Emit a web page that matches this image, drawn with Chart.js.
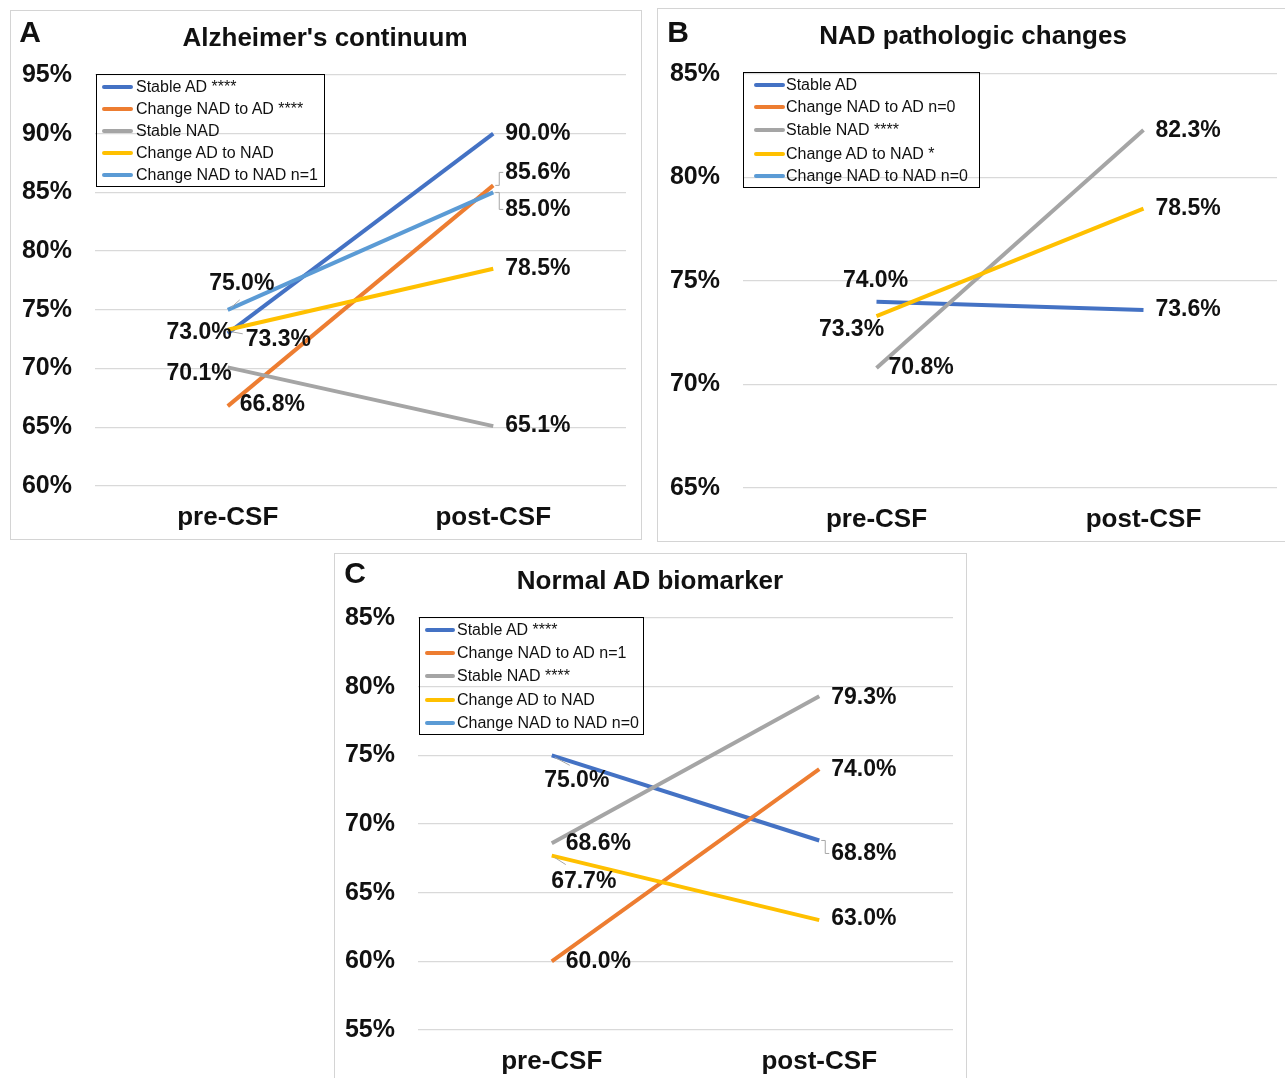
<!DOCTYPE html>
<html>
<head>
<meta charset="utf-8">
<script src="https://cdn.jsdelivr.net/npm/chart.js@4.4.1/dist/chart.umd.min.js"></script>
<style>
  html, body { margin: 0; padding: 0; background: #fff; }
  body { width: 1285px; height: 1078px; position: relative; overflow: hidden; font-family: "Liberation Sans", Arial, sans-serif; }
  .panel { position: absolute; border: 1px solid #d4d4d4; box-sizing: border-box; }
  .panel canvas { position: absolute; left: 0; top: 0; }
  .letter, .title { position: absolute; transform: translate(-50%, -50%); font-weight: bold; color: #111; white-space: nowrap; }
  .letter { font-size: 30px; }
  .title { font-size: 26px; }
  .legend { position: absolute; border: 1.6px solid #000; box-sizing: border-box; }
  .legend .row { position: absolute; left: 0; height: 20px; line-height: 20px; font-size: 16px; color: #111; white-space: nowrap; }
  .legend .sw { position: absolute; top: 8px; height: 4px; border-radius: 2px; }
  .legend .tx { position: absolute; top: 0; }
</style>
</head>
<body>
<script>
// data
const categories = ['pre-CSF', 'post-CSF'];
const colors = ['#4472C4', '#ED7D31', '#A5A5A5', '#FFC000', '#5B9BD5'];

const legendA = ['Stable AD ****', 'Change NAD to AD ****', 'Stable NAD', 'Change AD to NAD', 'Change NAD to NAD n=1'];
const legendB = ['Stable AD', 'Change NAD to AD n=0', 'Stable NAD ****', 'Change AD to NAD *', 'Change NAD to NAD n=0'];
const legendC = ['Stable AD ****', 'Change NAD to AD n=1', 'Stable NAD ****', 'Change AD to NAD', 'Change NAD to NAD n=0'];

const stableAD_A = [73.0, 90.0];
const nadToAD_A = [66.8, 85.6];
const stableNAD_A = [70.1, 65.1];
const adToNAD_A = [73.3, 78.5];
const nadToNAD_A = [75.0, 85.0];

const stableAD_B = [74.0, 73.6];
const nadToAD_B = [null, null];
const stableNAD_B = [70.8, 82.3];
const adToNAD_B = [73.3, 78.5];
const nadToNAD_B = [null, null];

const stableAD_C = [75.0, 68.8];
const nadToAD_C = [60.0, 74.0];
const stableNAD_C = [68.6, 79.3];
const adToNAD_C = [67.7, 63.0];
const nadToNAD_C = [null, null];

const yRangeA = [60, 95];
const yRangeB = [65, 85];
const yRangeC = [55, 85];

// layout of each panel (page pixels); labels: [dx, dy, align, leader polyline relative to point]
const panels = [
  {
    letter: 'A', title: "Alzheimer's continuum",
    series: [stableAD_A, nadToAD_A, stableNAD_A, adToNAD_A, nadToNAD_A], legend: legendA, yRange: yRangeA,
    box: { x: 10, y: 10, w: 632, h: 530 }, area: { l: 95, t: 75, r: 626, b: 486 },
    letterPos: [30, 32], titlePos: [325, 37],
    legendBox: { x: 96, y: 74, w: 229, h: 113, rows: [12, 34, 56, 78, 100], sw: [5, 31], tx: 39 },
    labels: [
      [[4, -1, 'right'], [12, 0, 'left']],
      [[12, -1, 'left'], [12, -13, 'left', [[2, 0], [6, 0], [6, -13], [10, -13]]]],
      [[4, 6, 'right'], [12, 0, 'left']],
      [[18, 10, 'left', [[4, 2], [15, 4]]], [12, 0, 'left']],
      [[14, -26, 'center', [[3, -2], [12, -10]]], [12, 17, 'left', [[2, 0], [6, 0], [6, 17], [10, 17]]]]
    ]
  },
  {
    letter: 'B', title: 'NAD pathologic changes',
    series: [stableAD_B, nadToAD_B, stableNAD_B, adToNAD_B, nadToNAD_B], legend: legendB, yRange: yRangeB,
    box: { x: 657, y: 8, w: 632, h: 534 }, area: { l: 743, t: 74, r: 1277, b: 488 },
    letterPos: [678, 32], titlePos: [973, 35],
    legendBox: { x: 743, y: 72, w: 237, h: 116, rows: [12, 34, 57, 81, 103], sw: [10, 31], tx: 42 },
    labels: [
      [[-1, -21, 'center'], [12, 0, 'left']],
      [[0, 0, 'left'], [0, 0, 'left']],
      [[12, 0, 'left'], [12, 1, 'left']],
      [[-25, 13, 'center'], [12, 0, 'left']],
      [[0, 0, 'left'], [0, 0, 'left']]
    ]
  },
  {
    letter: 'C', title: 'Normal AD biomarker',
    series: [stableAD_C, nadToAD_C, stableNAD_C, adToNAD_C, nadToNAD_C], legend: legendC, yRange: yRangeC,
    box: { x: 334, y: 553, w: 633, h: 530 }, area: { l: 418, t: 618, r: 953, b: 1030 },
    letterPos: [355, 573], titlePos: [650, 580],
    legendBox: { x: 419, y: 617, w: 225, h: 118, rows: [12, 35, 58, 82, 105], sw: [5, 30], tx: 37 },
    labels: [
      [[25, 25, 'center', [[3, 2], [18, 10]]], [12, 13, 'left', [[2, 0], [6, 0], [6, 13], [10, 13]]]],
      [[14, 0, 'left'], [12, 1, 'left']],
      [[14, 0, 'left'], [12, 1, 'left']],
      [[32, 26, 'center', [[3, 2], [14, 9]]], [12, -1, 'left']],
      [[0, 0, 'left'], [0, 0, 'left']]
    ]
  }
];

const valueLabels = {
  id: 'valueLabels',
  afterDatasetsDraw(chart, args, opts) {
    const ctx = chart.ctx;
    ctx.save();
    ctx.font = 'bold 23px "Liberation Sans", Arial, sans-serif';
    ctx.textBaseline = 'middle';
    chart.data.datasets.forEach((ds, di) => {
      const meta = chart.getDatasetMeta(di);
      ds.data.forEach((v, i) => {
        if (v === null) return;
        const pt = meta.data[i];
        const off = opts.pos[di][i];
        if (off[3]) {
          ctx.strokeStyle = '#a6a6a6';
          ctx.lineWidth = 1;
          ctx.beginPath();
          off[3].forEach((q, k) => {
            if (k === 0) ctx.moveTo(pt.x + q[0], pt.y + q[1]);
            else ctx.lineTo(pt.x + q[0], pt.y + q[1]);
          });
          ctx.stroke();
        }
        ctx.fillStyle = '#111';
        ctx.textAlign = off[2];
        ctx.fillText(v.toFixed(1) + '%', pt.x + off[0], pt.y + off[1]);
      });
    });
    ctx.restore();
  }
};

panels.forEach(p => {
  const div = document.createElement('div');
  div.className = 'panel';
  Object.assign(div.style, { left: p.box.x + 'px', top: p.box.y + 'px', width: p.box.w + 'px', height: p.box.h + 'px' });
  document.body.appendChild(div);

  const cw = p.box.w - 2, ch = p.box.h - 2;
  const canvas = document.createElement('canvas');
  canvas.width = cw; canvas.height = ch;
  canvas.style.width = cw + 'px'; canvas.style.height = ch + 'px';
  div.appendChild(canvas);

  const ox = p.box.x + 1, oy = p.box.y + 1;
  const l = p.area.l - ox, t = p.area.t - oy, r = p.area.r - ox, b = p.area.b - oy;

  const letter = document.createElement('div');
  letter.className = 'letter';
  letter.textContent = p.letter;
  Object.assign(letter.style, { left: p.letterPos[0] + 'px', top: p.letterPos[1] + 'px' });
  document.body.appendChild(letter);

  const title = document.createElement('div');
  title.className = 'title';
  title.textContent = p.title;
  Object.assign(title.style, { left: p.titlePos[0] + 'px', top: p.titlePos[1] + 'px' });
  document.body.appendChild(title);

  const lb = p.legendBox;
  const leg = document.createElement('div');
  leg.className = 'legend';
  Object.assign(leg.style, { left: lb.x + 'px', top: lb.y + 'px', width: lb.w + 'px', height: lb.h + 'px' });
  p.legend.forEach((name, i) => {
    const row = document.createElement('div');
    row.className = 'row';
    row.style.top = (lb.rows[i] - 10) + 'px';
    row.style.width = lb.w + 'px';
    const sw = document.createElement('span');
    sw.className = 'sw';
    Object.assign(sw.style, { left: lb.sw[0] + 'px', width: lb.sw[1] + 'px', background: colors[i] });
    const tx = document.createElement('span');
    tx.className = 'tx';
    tx.style.left = lb.tx + 'px';
    tx.textContent = name;
    row.appendChild(sw); row.appendChild(tx);
    leg.appendChild(row);
  });
  document.body.appendChild(leg);

  new Chart(canvas.getContext('2d'), {
    type: 'line',
    data: {
      labels: categories,
      datasets: p.series.map((vals, i) => ({
        label: p.legend[i],
        data: vals,
        borderColor: colors[i],
        backgroundColor: colors[i],
        borderWidth: 4,
        pointRadius: 0,
        tension: 0,
        order: 5 - i
      }))
    },
    options: {
      responsive: false,
      animation: false,
      layout: { padding: { left: 0, top: t, right: cw - r, bottom: 0 } },
      plugins: {
        legend: { display: false },
        title: { display: false },
        tooltip: { enabled: false },
        valueLabels: { pos: p.labels }
      },
      scales: {
        x: {
          offset: true,
          grid: { display: false, drawTicks: false },
          border: { display: false },
          ticks: { padding: 16, color: '#111', font: { family: '"Liberation Sans", Arial, sans-serif', size: 26, weight: 'bold' } },
          afterFit: s => { s.height = ch - b; }
        },
        y: {
          min: p.yRange[0],
          max: p.yRange[1],
          grid: { color: '#d9d9d9', lineWidth: 1.3, drawTicks: false },
          border: { display: false },
          ticks: {
            stepSize: 5,
            padding: 23,
            color: '#111',
            font: { family: '"Liberation Sans", Arial, sans-serif', size: 25, weight: 'bold' },
            callback: v => v + '%'
          },
          afterFit: s => { s.width = l; }
        }
      }
    },
    plugins: [valueLabels]
  });
});
</script>
</body>
</html>
